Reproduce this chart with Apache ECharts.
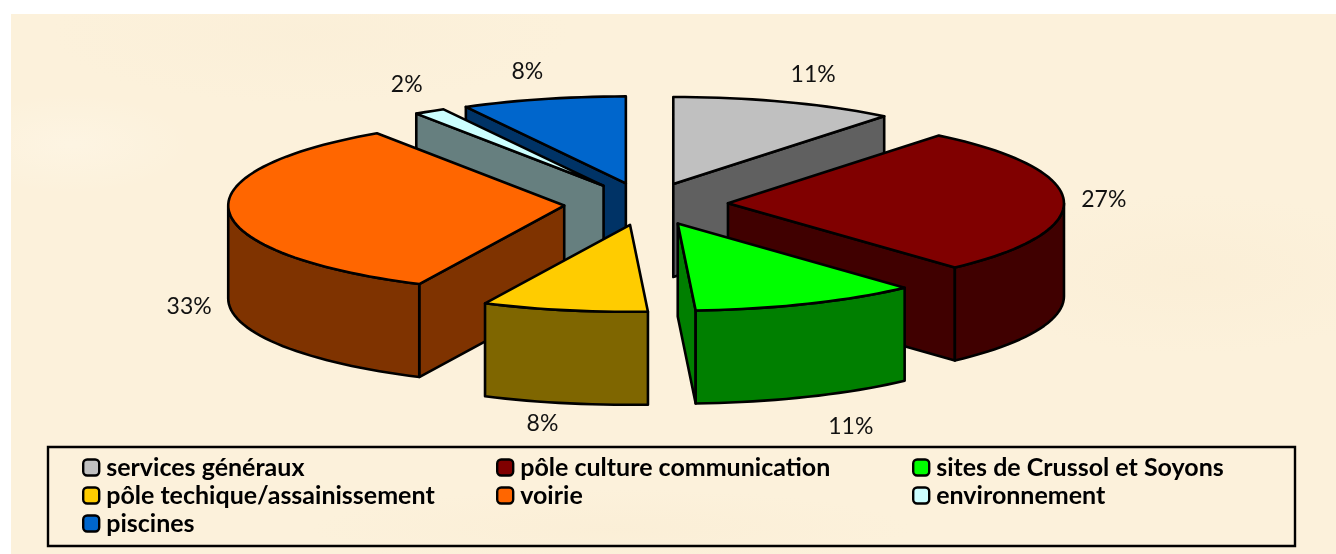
<!DOCTYPE html>
<html>
<head>
<meta charset="utf-8">
<title>Répartition par service</title>
<script src="https://cdn.jsdelivr.net/npm/echarts@6/dist/echarts.min.js"></script>
<style>
  html, body { margin: 0; padding: 0; background: #fff; }
  #paper {
    position: absolute; left: 11px; top: 14px; width: 1325px; height: 540px;
    background-color: #fcf1db;
    background-image:
      radial-gradient(ellipse 120px 50px at 60px 130px, rgba(255,250,240,.35), transparent),
      radial-gradient(ellipse 220px 80px at 1180px 260px, rgba(248,233,205,.3), transparent),
      radial-gradient(ellipse 260px 70px at 300px 20px, rgba(248,235,210,.3), transparent),
      radial-gradient(ellipse 300px 40px at 600px 515px, rgba(248,233,205,.3), transparent);
  }
  #main { position: absolute; left: 0; top: 0; width: 1336px; height: 554px; }
</style>
</head>
<body>
<div id="paper"></div>
<div id="main"></div>
<script>
const categories = ['services généraux', 'pôle culture communication', 'sites de Crussol et Soyons',
  'pôle techique/assainissement', 'voirie', 'environnement', 'piscines'];
const shares = [10.8, 27.4, 10.95, 7.95, 33.49, 1.51, 7.9];
const topColors = ['#c0c0c0', '#800000', '#00ff00', '#ffcc00', '#ff6600', '#ccffff', '#0066cc'];

// legend columns, as indexes in categories
const legendColumns = [[0, 3, 6], [1, 4], [2, 5]];
const legendLeft = [82, 496, 912];

// pie geometry, in pixels
const centerX = 646;
const centerY = 204;
const radiusX = 336;
const radiusY = 87;
const depth = 93;
const explode = 82;
// where each % label sits, relative to the middle of the slice rim
const labelNudge = [[28, -27], [40, -1], [43, 123], [-22, 113], [-40, 95], [-23, -27], [-16, -28]];

const total = shares.reduce((a, b) => a + b, 0);
const toRad = Math.PI / 180;

// clockwise from 12 o'clock, in degrees
const startAngles = [];
let sum = 0;
shares.forEach(function (v) {
  startAngles.push(sum / total * 360);
  sum += v;
});

function halfColor(hex) {
  const n = parseInt(hex.slice(1), 16);
  const r = (n >> 16) >> 1, g = ((n >> 8) & 255) >> 1, b = (n & 255) >> 1;
  return 'rgb(' + r + ',' + g + ',' + b + ')';
}

function rimPoint(apex, deg) {
  return [apex[0] + radiusX * Math.sin(deg * toRad), apex[1] - radiusY * Math.cos(deg * toRad)];
}

function arcPoints(apex, from, to) {
  const pts = [];
  const steps = Math.max(2, Math.ceil((to - from) / 2));
  for (let i = 0; i <= steps; i++) {
    pts.push(rimPoint(apex, from + (to - from) * i / steps));
  }
  return pts;
}

function lowered(p) {
  return [p[0], p[1] + depth];
}

function renderSlice(i, api) {
  const a = startAngles[i];
  const b = a + api.value(0) / total * 360;
  const mid = (a + b) / 2;
  const apex = [
    centerX + explode * Math.sin(mid * toRad),
    centerY - explode * radiusY / radiusX * Math.cos(mid * toRad)
  ];
  const line = { stroke: '#000', lineWidth: 2.6, lineJoin: 'round' };
  const wallStyle = Object.assign({ fill: halfColor(topColors[i]) }, line);
  const children = [];

  function wall(points) {
    children.push({ type: 'polygon', shape: { points: points }, style: wallStyle });
  }

  // only the cut faces turned towards the viewer
  if (Math.sin(a * toRad) < 0) {
    const p = rimPoint(apex, a);
    wall([apex, p, lowered(p), lowered(apex)]);
  }
  if (Math.sin(b * toRad) > 0) {
    const p = rimPoint(apex, b);
    wall([apex, p, lowered(p), lowered(apex)]);
  }
  // front half of the rim
  const from = Math.max(a, 90), to = Math.min(b, 270);
  if (to > from) {
    const rim = arcPoints(apex, from, to);
    wall(rim.concat(rim.map(lowered).reverse()));
  }
  children.push({
    type: 'polygon',
    shape: { points: [apex].concat(arcPoints(apex, a, b)) },
    style: Object.assign({ fill: topColors[i] }, line)
  });

  const rimMid = rimPoint(apex, mid);
  children.push({
    type: 'text',
    x: rimMid[0] + labelNudge[i][0],
    y: rimMid[1] + labelNudge[i][1],
    style: {
      text: Math.round(api.value(0) / total * 100) + '%',
      font: '23px Lato',
      fill: '#111',
      align: 'center',
      verticalAlign: 'middle'
    }
  });
  return { type: 'group', children: children };
}

// back slices first, the front ones overlap them
function paintRank(i) {
  const mid = startAngles[i] + shares[i] / total * 180;
  return -Math.cos(mid * toRad);
}
const order = categories.map((c, i) => i).sort((p, q) => paintRank(p) - paintRank(q));

const chart = echarts.init(document.getElementById('main'), null, { width: 1336, height: 554 });

chart.setOption({
  animation: false,
  backgroundColor: 'transparent',
  graphic: [{
    type: 'rect',
    shape: { x: 48, y: 447, width: 1247, height: 99 },
    style: { fill: 'rgba(0,0,0,0)', stroke: '#000', lineWidth: 2.4 },
    silent: true
  }],
  legend: legendColumns.map(function (col, k) {
    return {
      data: col.map(i => categories[i]),
      orient: 'vertical',
      left: legendLeft[k],
      top: 455,
      padding: 0,
      itemWidth: 16,
      itemHeight: 16,
      itemGap: 3,
      selectedMode: false,
      textStyle: {
        color: '#000', fontFamily: 'Lato', fontWeight: 'bold', fontSize: 25,
        padding: [0, 0, 0, 2]
      },
      itemStyle: { borderColor: '#000', borderWidth: 2.4 }
    };
  }),
  series: categories.map(function (name, i) {
    return {
      type: 'custom',
      name: name,
      coordinateSystem: 'none',
      z: 2 + order.indexOf(i),
      silent: true,
      itemStyle: { color: topColors[i] },
      data: [[shares[i]]],
      renderItem: function (params, api) {
        return renderSlice(i, api);
      }
    };
  })
});
</script>
</body>
</html>
